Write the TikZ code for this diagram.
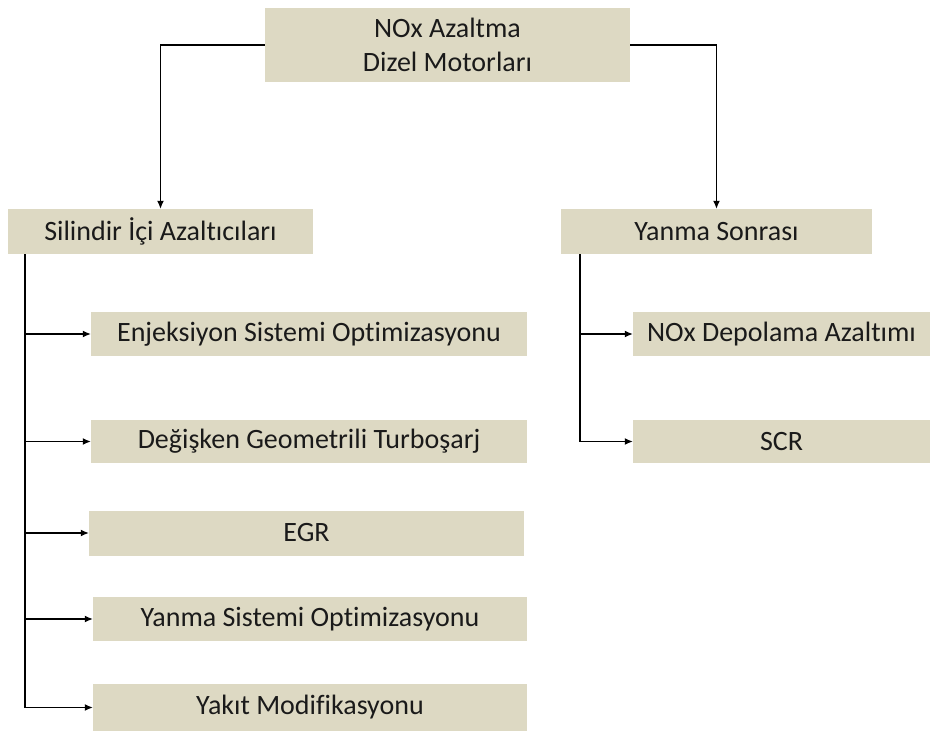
\documentclass[tikz,border=0pt]{standalone}
\usepackage{fontspec}
\setmainfont{Carlito}[Ligatures=NoCommon]
\usetikzlibrary{arrows.meta}
\definecolor{boxfill}{HTML}{DDD9C3}
\definecolor{txt}{HTML}{1A1A1A}
\tikzset{
  box/.style={rectangle, fill=boxfill, inner sep=0pt, text=txt, font=\fontsize{28bp}{34bp}\selectfont, align=center},
  conn/.style={draw=black, line width=1.2bp, -{Latex[length=8bp,width=7bp]}}
}
\begin{document}
\begin{tikzpicture}[x=1bp,y=1bp]
\useasboundingbox (0,0) rectangle (930,-731);
\node[box, minimum width=365bp, minimum height=74bp] (top) at (447.5,-45) {NOx Azaltma\\Dizel Motorları};
\node[box, minimum width=305bp, minimum height=45bp] (sil) at (160.5,-231.5) {Silindir İçi Azaltıcıları};
\node[box, minimum width=311bp, minimum height=45bp] (yan) at (716.5,-231.5) {Yanma Sonrası};
\node[box, minimum width=436bp, minimum height=44bp] (enj) at (309,-334) {Enjeksiyon Sistemi Optimizasyonu};
\node[box, minimum width=436bp, minimum height=43bp] (deg) at (309,-441.5) {Değişken Geometrili Turboşarj};
\node[box, minimum width=435bp, minimum height=45bp] (egr) at (306.5,-533) {EGR};
\node[box, minimum width=434bp, minimum height=44bp] (yso) at (310,-619) {Yanma Sistemi Optimizasyonu};
\node[box, minimum width=434bp, minimum height=47bp] (yak) at (310,-707.5) {Yakıt Modifikasyonu};
\node[box, minimum width=297bp, minimum height=44bp] (nox) at (781.5,-334) {NOx Depolama Azaltımı};
\node[box, minimum width=297bp, minimum height=43bp] (scr) at (781.5,-441.5) {SCR};
\coordinate (lt) at (25,-254);
\coordinate (rt) at (580,-254);
\draw[conn] (top.west) -| (sil.north);
\draw[conn] (top.east) -| (yan.north);
\draw[conn] (lt) |- (enj.west);
\draw[conn] (lt) |- (deg.west);
\draw[conn] (lt) |- (egr.west);
\draw[conn] (lt) |- (yso.west);
\draw[conn] (lt) |- (yak.west);
\draw[conn] (rt) |- (nox.west);
\draw[conn] (rt) |- (scr.west);
\end{tikzpicture}
\end{document}
